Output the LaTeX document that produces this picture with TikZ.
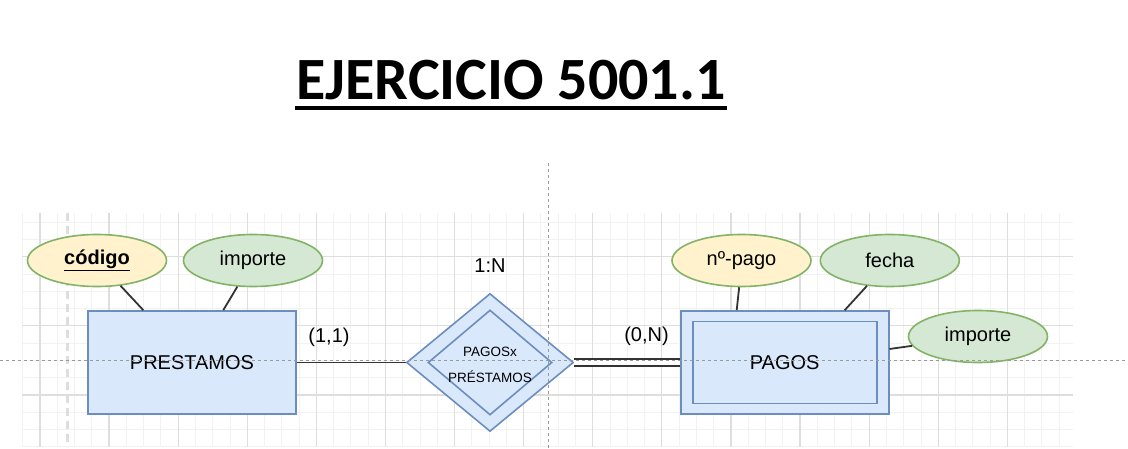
\documentclass[tikz,border=0pt]{standalone}
\usepackage{fontspec}
\setmainfont{Liberation Sans}
\newfontfamily\titlefont{Carlito}
\usetikzlibrary{shapes.geometric}
\definecolor{entfill}{HTML}{DAE8FC}
\definecolor{entline}{HTML}{6C8EBF}
\definecolor{keyfill}{HTML}{FFF2CC}
\definecolor{attfill}{HTML}{D5E8D4}
\definecolor{attline}{HTML}{82B366}
\definecolor{minorgrid}{HTML}{F2F2F2}
\definecolor{majorgrid}{HTML}{DEDEDE}
\definecolor{guide}{HTML}{9A9A9A}
\definecolor{linkline}{HTML}{333333}
\begin{document}
\begin{tikzpicture}[x=1pt, y=-1pt, line width=1.6pt,
	entity/.style={rectangle, draw=entline, fill=entfill, minimum width=208, minimum height=103, font=\fontsize{20}{24}\selectfont},
	attr/.style={ellipse, draw=attline, fill=attfill, minimum width=139, minimum height=52, inner sep=0pt, font=\fontsize{20}{24}\selectfont},
	keyattr/.style={attr, fill=keyfill},
	rel/.style={diamond, draw=entline, fill=entfill, inner sep=0pt},
	card/.style={font=\fontsize{20}{24}\selectfont},
	link/.style={draw=linkline, line width=1.8pt}]
	\useasboundingbox (0,0) rectangle (1128,449);
	\fill[white] (0,0) rectangle (1128,449);
	\foreach \i in {0,...,60}
		\draw[minorgrid, line width=1pt] (22.7+\i*17.275,213) -- (22.7+\i*17.275,447);
	\foreach \j in {0,...,13}
		\draw[minorgrid, line width=1pt] (22,222.2+\j*17.275) -- (1073,222.2+\j*17.275);
	\foreach \i in {1,5,...,57}
		\draw[majorgrid, line width=1.2pt] (22.7+\i*17.275,213) -- (22.7+\i*17.275,447);
	\foreach \j in {2,6,10}
		\draw[majorgrid, line width=1.2pt] (22,222.2+\j*17.275) -- (1073,222.2+\j*17.275);
	\draw[majorgrid, line width=3pt, dash pattern=on 8pt off 5pt] (67,213) -- (67,447);

	\node (title) at (511,100)	[anchor=base, inner sep=0pt, font=\titlefont\bfseries\fontsize{60}{68}\selectfont]	{EJERCICIO 5001.1};
	\draw[line width=4pt] ([yshift=-7.7]title.base west) -- ([yshift=-7.7]title.base east);

	\node (prestamos) at (192,362.5)	[entity]	{PRESTAMOS};
	\node (pagos) at (784.7,362.5)	[entity]	{};
	\node (pagosin) at (784.7,362.5)	[rectangle, draw=entline, minimum width=184, minimum height=81.6, font=\fontsize{20}{24}\selectfont]	{PAGOS};
	\node (rel) at (490,362.5)	[rel, minimum width=167, minimum height=138]	{};
	\node (relin) at (490,362.5)	[rel, minimum width=124, minimum height=105]	{};
	\node (reltext) at (490,365)	[align=center, inner sep=0pt, font=\fontsize{13.5}{26}\selectfont]	{PAGOSx\\PRÉSTAMOS};

	\node (codigo) at (97,260.5)	[keyattr]	{\textbf{\underline{código}}};
	\node (impprest) at (253,260.5)	[attr]	{importe};
	\node (nopago) at (741.5,260.5)	[keyattr]	{nº-pago};
	\node (fecha) at (889.8,260.5)	[attr]	{fecha};
	\node (imppago) at (978,336.5)	[attr]	{importe};

	\node (tipo) at (490,266)	[card]	{1:N};
	\node (cardprest) at (329,337)	[card]	{(1,1)};
	\node (cardpago) at (646.5,336)	[card]	{(0,N)};

	\draw[link] (codigo) -- (prestamos);
	\draw[link] (impprest) -- (prestamos);
	\draw[link] (nopago.265) -- ([xshift=-48]pagos.north);
	\draw[link] (fecha.228) -- ([xshift=60]pagos.north);
	\draw[link] ([yshift=13.5]pagos.east) -- (imppago);
	\draw[link] (prestamos.east) -- (rel.west);
	\draw[link, double=white, double distance=4.5pt] (rel.east) -- (pagos.west);

	\draw[guide, line width=0.6pt, dash pattern=on 3pt off 3pt] (0,360) -- (1128,360);
	\draw[guide, line width=0.6pt, dash pattern=on 3pt off 3pt] (548.3,163) -- (548.3,449);
\end{tikzpicture}
\end{document}
